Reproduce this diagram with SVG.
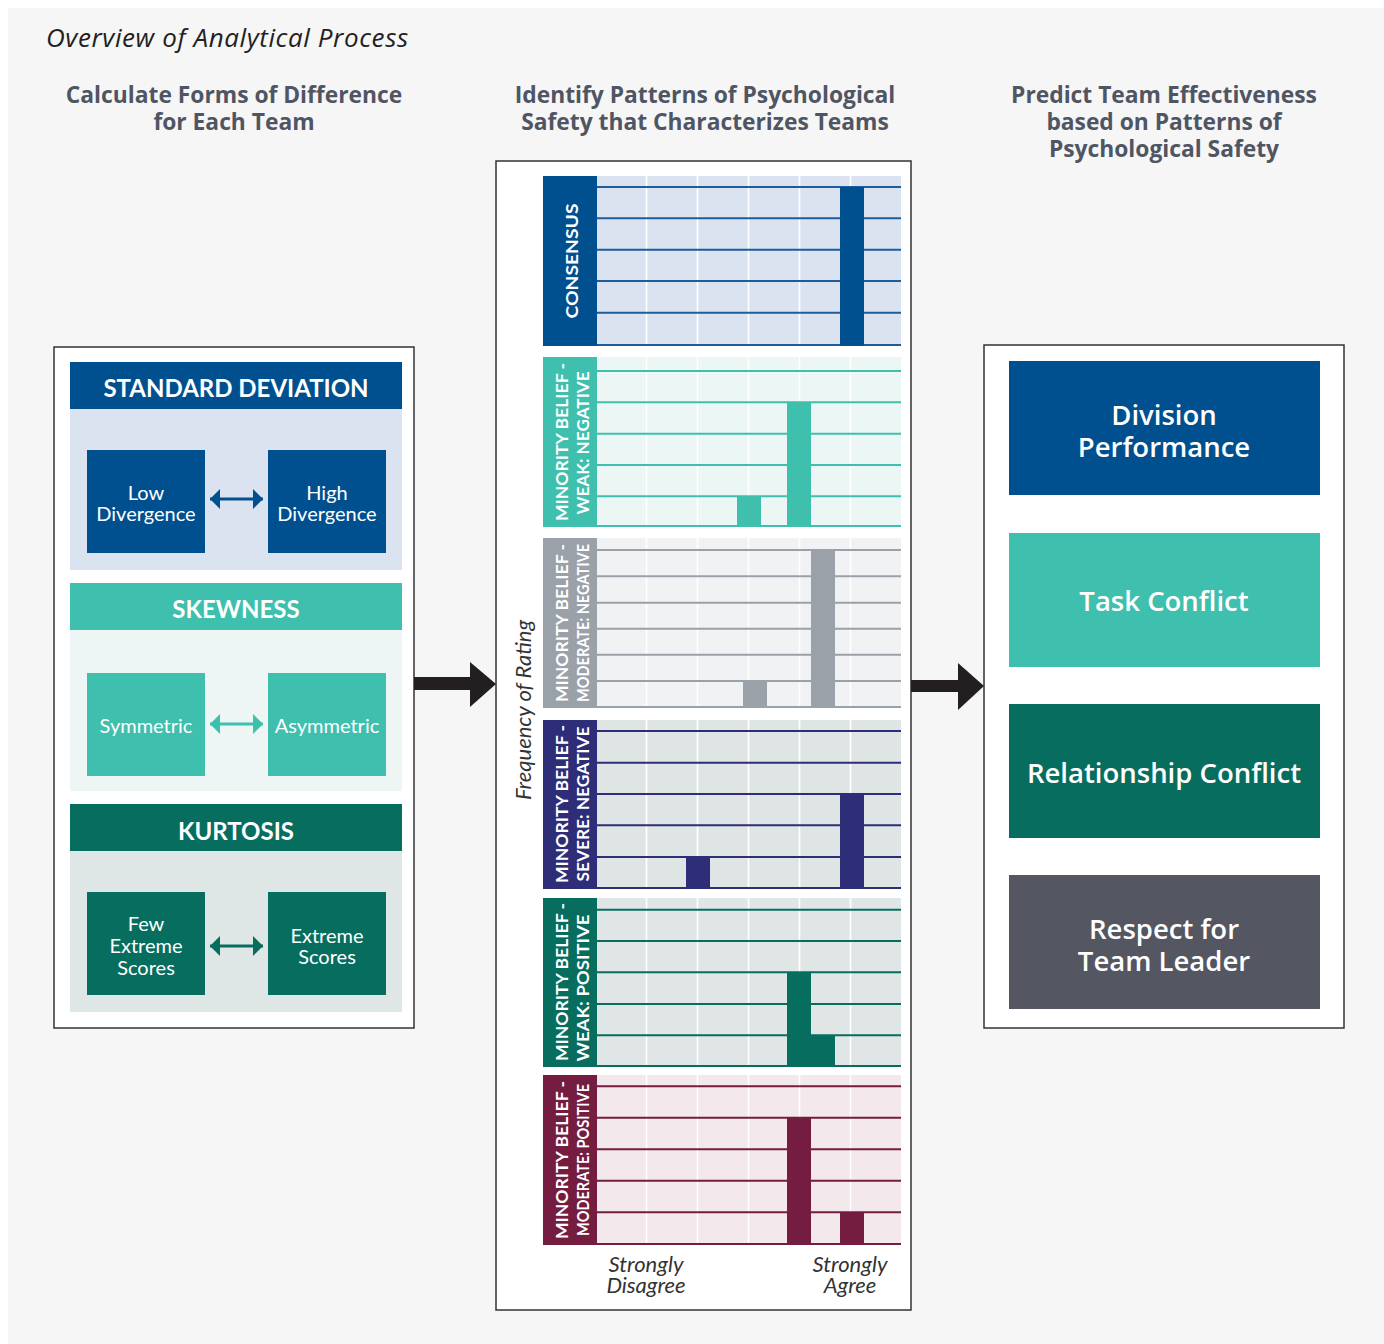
<svg xmlns="http://www.w3.org/2000/svg" width="1384" height="1344" viewBox="0 0 1384 1344">
<style>
text{font-family:Lato,"Open Sans","Liberation Sans",sans-serif}
.title{font-family:"Open Sans",Lato,sans-serif;font-size:26px;letter-spacing:0.6px;font-style:italic;fill:#222}
.head{font-family:"Open Sans",Lato,sans-serif;font-size:22.8px;font-weight:bold;fill:#4f5563;text-anchor:middle}
.frame{fill:#fff;stroke:#333;stroke-width:1.5}
.hdr{font-size:24px;font-weight:bold;fill:#fff;text-anchor:middle}
.inner{font-size:20px;fill:#fff;text-anchor:middle}
.big{font-family:"Open Sans",Lato,sans-serif;font-size:27.5px;font-weight:600;fill:#fff;text-anchor:middle}
.plab{font-size:17px;font-weight:bold;fill:#fff;text-anchor:middle;dominant-baseline:central}
.axis{font-size:22px;font-style:italic;fill:#333;text-anchor:middle}
.vg{stroke:#fff;stroke-width:1.6}
</style>
<defs>
<marker id="ah-blue" viewBox="0 0 10 20" markerWidth="10" markerHeight="20" refX="10" refY="10" orient="auto-start-reverse" markerUnits="userSpaceOnUse"><path d="M0,0 L10,10 L0,20 Z" fill="#00508f"/></marker>
<marker id="ah-teal" viewBox="0 0 10 20" markerWidth="10" markerHeight="20" refX="10" refY="10" orient="auto-start-reverse" markerUnits="userSpaceOnUse"><path d="M0,0 L10,10 L0,20 Z" fill="#3fbfad"/></marker>
<marker id="ah-green" viewBox="0 0 10 20" markerWidth="10" markerHeight="20" refX="10" refY="10" orient="auto-start-reverse" markerUnits="userSpaceOnUse"><path d="M0,0 L10,10 L0,20 Z" fill="#076e5f"/></marker>
</defs>
<rect x="0" y="0" width="1384" height="1344" fill="#fff"/>
<rect x="8" y="8" width="1376" height="1336" fill="#f6f6f6"/>

<text class="title" x="46" y="47">Overview of Analytical Process</text>
<text class="head" x="234" y="103"><tspan x="234">Calculate Forms of Difference</tspan><tspan x="234" dy="27">for Each Team</tspan></text>
<text class="head" x="705" y="103"><tspan x="705">Identify Patterns of Psychological</tspan><tspan x="705" dy="27">Safety that Characterizes Teams</tspan></text>
<text class="head" x="1164" y="103"><tspan x="1164">Predict Team Effectiveness</tspan><tspan x="1164" dy="27">based on Patterns of</tspan><tspan x="1164" dy="27">Psychological Safety</tspan></text>

<!-- Left panel -->
<g id="forms-of-difference">
<rect class="frame" x="54" y="347" width="360" height="681"/>
<g id="standard-deviation">
<rect x="70" y="362" width="332" height="47" fill="#00508f"/>
<rect x="70" y="409" width="332" height="161" fill="#dce3f0"/>
<text class="hdr" x="236" y="397">STANDARD DEVIATION</text>
<rect x="87" y="450" width="118" height="103" fill="#00508f"/>
<text class="inner" x="146" y="500"><tspan x="146">Low</tspan><tspan x="146" dy="21">Divergence</tspan></text>
<rect x="268" y="450" width="118" height="103" fill="#00508f"/>
<text class="inner" x="327" y="500"><tspan x="327">High</tspan><tspan x="327" dy="21">Divergence</tspan></text>
</g>
<g id="skewness">
<rect x="70" y="583" width="332" height="47" fill="#3fbfad"/>
<rect x="70" y="630" width="332" height="161" fill="#edf6f5"/>
<text class="hdr" x="236" y="618">SKEWNESS</text>
<rect x="87" y="673" width="118" height="103" fill="#3fbfad"/>
<text class="inner" x="146" y="733">Symmetric</text>
<rect x="268" y="673" width="118" height="103" fill="#3fbfad"/>
<text class="inner" x="327" y="733">Asymmetric</text>
</g>
<g id="kurtosis">
<rect x="70" y="804" width="332" height="47" fill="#076e5f"/>
<rect x="70" y="851" width="332" height="161" fill="#dfe7e6"/>
<text class="hdr" x="236" y="840">KURTOSIS</text>
<rect x="87" y="892" width="118" height="103" fill="#076e5f"/>
<text class="inner" x="146" y="931"><tspan x="146">Few</tspan><tspan x="146" dy="22">Extreme</tspan><tspan x="146" dy="22">Scores</tspan></text>
<rect x="268" y="892" width="118" height="103" fill="#076e5f"/>
<text class="inner" x="327" y="943"><tspan x="327">Extreme</tspan><tspan x="327" dy="21">Scores</tspan></text>
</g>
</g>

<!-- Middle panel -->
<g id="patterns">
<rect class="frame" x="496" y="161" width="415" height="1149"/>
<text class="axis" transform="translate(531,710) rotate(-90)">Frequency of Rating</text>

<g id="consensus">
<rect x="597" y="176" width="304" height="170" fill="#dce3f0"/>
<g class="vg"><line x1="646.5" y1="176" x2="646.5" y2="346"/><line x1="697.5" y1="176" x2="697.5" y2="346"/><line x1="748.5" y1="176" x2="748.5" y2="346"/><line x1="799.5" y1="176" x2="799.5" y2="346"/><line x1="850.5" y1="176" x2="850.5" y2="346"/></g>
<g stroke="#1f5c9c" stroke-width="2"><line x1="597" y1="187" x2="901" y2="187"/><line x1="597" y1="218.3" x2="901" y2="218.3"/><line x1="597" y1="249.7" x2="901" y2="249.7"/><line x1="597" y1="281" x2="901" y2="281"/><line x1="597" y1="312.7" x2="901" y2="312.7"/><line x1="597" y1="345" x2="901" y2="345"/></g>
<rect x="840" y="187" width="24" height="159" fill="#00508f"/>
<rect x="543" y="176" width="54" height="170" fill="#00508f"/>
<text class="plab" font-size="20" transform="translate(571,261) rotate(-90)" textLength="115" lengthAdjust="spacingAndGlyphs">CONSENSUS</text>
</g>

<g id="weak-negative">
<rect x="597" y="357" width="304" height="170" fill="#ecf6f4"/>
<g class="vg"><line x1="646.5" y1="357" x2="646.5" y2="527"/><line x1="697.5" y1="357" x2="697.5" y2="527"/><line x1="748.5" y1="357" x2="748.5" y2="527"/><line x1="799.5" y1="357" x2="799.5" y2="527"/><line x1="850.5" y1="357" x2="850.5" y2="527"/></g>
<g stroke="#3fbfad" stroke-width="2"><line x1="597" y1="371" x2="901" y2="371"/><line x1="597" y1="402.3" x2="901" y2="402.3"/><line x1="597" y1="433.7" x2="901" y2="433.7"/><line x1="597" y1="465" x2="901" y2="465"/><line x1="597" y1="496.3" x2="901" y2="496.3"/><line x1="597" y1="526" x2="901" y2="526"/></g>
<rect x="737" y="496.3" width="24" height="30.7" fill="#3fbfad"/>
<rect x="787" y="402.3" width="24" height="124.7" fill="#3fbfad"/>
<rect x="543" y="357" width="54" height="170" fill="#3fbfad"/>
<text class="plab" transform="translate(561,442) rotate(-90)" textLength="158" lengthAdjust="spacingAndGlyphs">MINORITY BELIEF -</text>
<text class="plab" transform="translate(582,443) rotate(-90)" textLength="143" lengthAdjust="spacingAndGlyphs">WEAK: NEGATIVE</text>
</g>

<g id="moderate-negative">
<rect x="597" y="538" width="304" height="170" fill="#f1f2f3"/>
<g class="vg"><line x1="646.5" y1="538" x2="646.5" y2="708"/><line x1="697.5" y1="538" x2="697.5" y2="708"/><line x1="748.5" y1="538" x2="748.5" y2="708"/><line x1="799.5" y1="538" x2="799.5" y2="708"/><line x1="850.5" y1="538" x2="850.5" y2="708"/></g>
<g stroke="#9aa1a8" stroke-width="2"><line x1="597" y1="550" x2="901" y2="550"/><line x1="597" y1="576.3" x2="901" y2="576.3"/><line x1="597" y1="602.7" x2="901" y2="602.7"/><line x1="597" y1="628.7" x2="901" y2="628.7"/><line x1="597" y1="654.7" x2="901" y2="654.7"/><line x1="597" y1="681" x2="901" y2="681"/><line x1="597" y1="707" x2="901" y2="707"/></g>
<rect x="743" y="681" width="24" height="27" fill="#9aa1a8"/>
<rect x="811" y="550" width="24" height="158" fill="#9aa1a8"/>
<rect x="543" y="538" width="54" height="170" fill="#9aa1a8"/>
<text class="plab" transform="translate(561,623) rotate(-90)" textLength="158" lengthAdjust="spacingAndGlyphs">MINORITY BELIEF -</text>
<text class="plab" transform="translate(582,623) rotate(-90)" textLength="158" lengthAdjust="spacingAndGlyphs">MODERATE: NEGATIVE</text>
</g>

<g id="severe-negative">
<rect x="597" y="720" width="304" height="169" fill="#dfe5e5"/>
<g class="vg"><line x1="646.5" y1="720" x2="646.5" y2="889"/><line x1="697.5" y1="720" x2="697.5" y2="889"/><line x1="748.5" y1="720" x2="748.5" y2="889"/><line x1="799.5" y1="720" x2="799.5" y2="889"/><line x1="850.5" y1="720" x2="850.5" y2="889"/></g>
<g stroke="#2e2d78" stroke-width="2"><line x1="597" y1="731" x2="901" y2="731"/><line x1="597" y1="762.7" x2="901" y2="762.7"/><line x1="597" y1="794" x2="901" y2="794"/><line x1="597" y1="825.3" x2="901" y2="825.3"/><line x1="597" y1="857" x2="901" y2="857"/><line x1="597" y1="888" x2="901" y2="888"/></g>
<rect x="686" y="856" width="24" height="33" fill="#2e2d78"/>
<rect x="840" y="794" width="24" height="95" fill="#2e2d78"/>
<rect x="543" y="720" width="54" height="169" fill="#2e2d78"/>
<text class="plab" transform="translate(561,804) rotate(-90)" textLength="158" lengthAdjust="spacingAndGlyphs">MINORITY BELIEF -</text>
<text class="plab" transform="translate(582,804) rotate(-90)" textLength="155" lengthAdjust="spacingAndGlyphs">SEVERE: NEGATIVE</text>
</g>

<g id="weak-positive">
<rect x="597" y="898" width="304" height="169" fill="#dfe6e5"/>
<g class="vg"><line x1="646.5" y1="898" x2="646.5" y2="1067"/><line x1="697.5" y1="898" x2="697.5" y2="1067"/><line x1="748.5" y1="898" x2="748.5" y2="1067"/><line x1="799.5" y1="898" x2="799.5" y2="1067"/><line x1="850.5" y1="898" x2="850.5" y2="1067"/></g>
<g stroke="#076e5f" stroke-width="2"><line x1="597" y1="909.7" x2="901" y2="909.7"/><line x1="597" y1="941" x2="901" y2="941"/><line x1="597" y1="972.3" x2="901" y2="972.3"/><line x1="597" y1="1004" x2="901" y2="1004"/><line x1="597" y1="1035.3" x2="901" y2="1035.3"/><line x1="597" y1="1066" x2="901" y2="1066"/></g>
<rect x="787" y="972.3" width="24" height="94.7" fill="#076e5f"/>
<rect x="811" y="1035.3" width="24" height="31.7" fill="#076e5f"/>
<rect x="543" y="898" width="54" height="169" fill="#076e5f"/>
<text class="plab" transform="translate(561,982) rotate(-90)" textLength="158" lengthAdjust="spacingAndGlyphs">MINORITY BELIEF -</text>
<text class="plab" transform="translate(582,988) rotate(-90)" textLength="147" lengthAdjust="spacingAndGlyphs">WEAK: POSITIVE</text>
</g>

<g id="moderate-positive">
<rect x="597" y="1075" width="304" height="170" fill="#f3e8ec"/>
<g class="vg"><line x1="646.5" y1="1075" x2="646.5" y2="1245"/><line x1="697.5" y1="1075" x2="697.5" y2="1245"/><line x1="748.5" y1="1075" x2="748.5" y2="1245"/><line x1="799.5" y1="1075" x2="799.5" y2="1245"/><line x1="850.5" y1="1075" x2="850.5" y2="1245"/></g>
<g stroke="#741d40" stroke-width="2"><line x1="597" y1="1086.3" x2="901" y2="1086.3"/><line x1="597" y1="1117.7" x2="901" y2="1117.7"/><line x1="597" y1="1149.3" x2="901" y2="1149.3"/><line x1="597" y1="1180.7" x2="901" y2="1180.7"/><line x1="597" y1="1212.3" x2="901" y2="1212.3"/><line x1="597" y1="1244" x2="901" y2="1244"/></g>
<rect x="787" y="1117.7" width="24" height="127.3" fill="#741d40"/>
<rect x="840" y="1212.3" width="24" height="32.7" fill="#741d40"/>
<rect x="543" y="1075" width="54" height="170" fill="#741d40"/>
<text class="plab" transform="translate(561,1160) rotate(-90)" textLength="158" lengthAdjust="spacingAndGlyphs">MINORITY BELIEF -</text>
<text class="plab" transform="translate(582,1160) rotate(-90)" textLength="152" lengthAdjust="spacingAndGlyphs">MODERATE: POSITIVE</text>
</g>

<text class="axis" x="646" y="1272"><tspan x="646">Strongly</tspan><tspan x="646" dy="21">Disagree</tspan></text>
<text class="axis" x="850" y="1272"><tspan x="850">Strongly</tspan><tspan x="850" dy="21">Agree</tspan></text>
</g>

<!-- Right panel -->
<g id="team-effectiveness">
<rect class="frame" x="984" y="345" width="360" height="683"/>
<g id="division-performance">
<rect x="1009" y="361" width="311" height="134" fill="#00508f"/>
<text class="big" x="1164" y="425"><tspan x="1164">Division</tspan><tspan x="1164" dy="32">Performance</tspan></text>
</g>
<g id="task-conflict">
<rect x="1009" y="533" width="311" height="134" fill="#3fbfad"/>
<text class="big" x="1164" y="611">Task Conflict</text>
</g>
<g id="relationship-conflict">
<rect x="1009" y="704" width="311" height="134" fill="#076e5f"/>
<text class="big" x="1164" y="783">Relationship Conflict</text>
</g>
<g id="respect-leader">
<rect x="1009" y="875" width="311" height="134" fill="#545661"/>
<text class="big" x="1164" y="939"><tspan x="1164">Respect for</tspan><tspan x="1164" dy="32">Team Leader</tspan></text>
</g>
</g>

<!-- Connectors -->
<g id="connectors">
<line x1="210" y1="499" x2="263" y2="499" stroke="#00508f" stroke-width="3" marker-start="url(#ah-blue)" marker-end="url(#ah-blue)"/>
<line x1="210" y1="724" x2="263" y2="724" stroke="#3fbfad" stroke-width="3" marker-start="url(#ah-teal)" marker-end="url(#ah-teal)"/>
<line x1="210" y1="946" x2="263" y2="946" stroke="#076e5f" stroke-width="3" marker-start="url(#ah-green)" marker-end="url(#ah-green)"/>
<g fill="#231f20">
<rect x="414" y="677" width="58" height="13"/>
<polygon points="470,662 496,684 470,707"/>
<rect x="911" y="680" width="49" height="12"/>
<polygon points="958,663 984,686 958,710"/>
</g>
</g>
</svg>
